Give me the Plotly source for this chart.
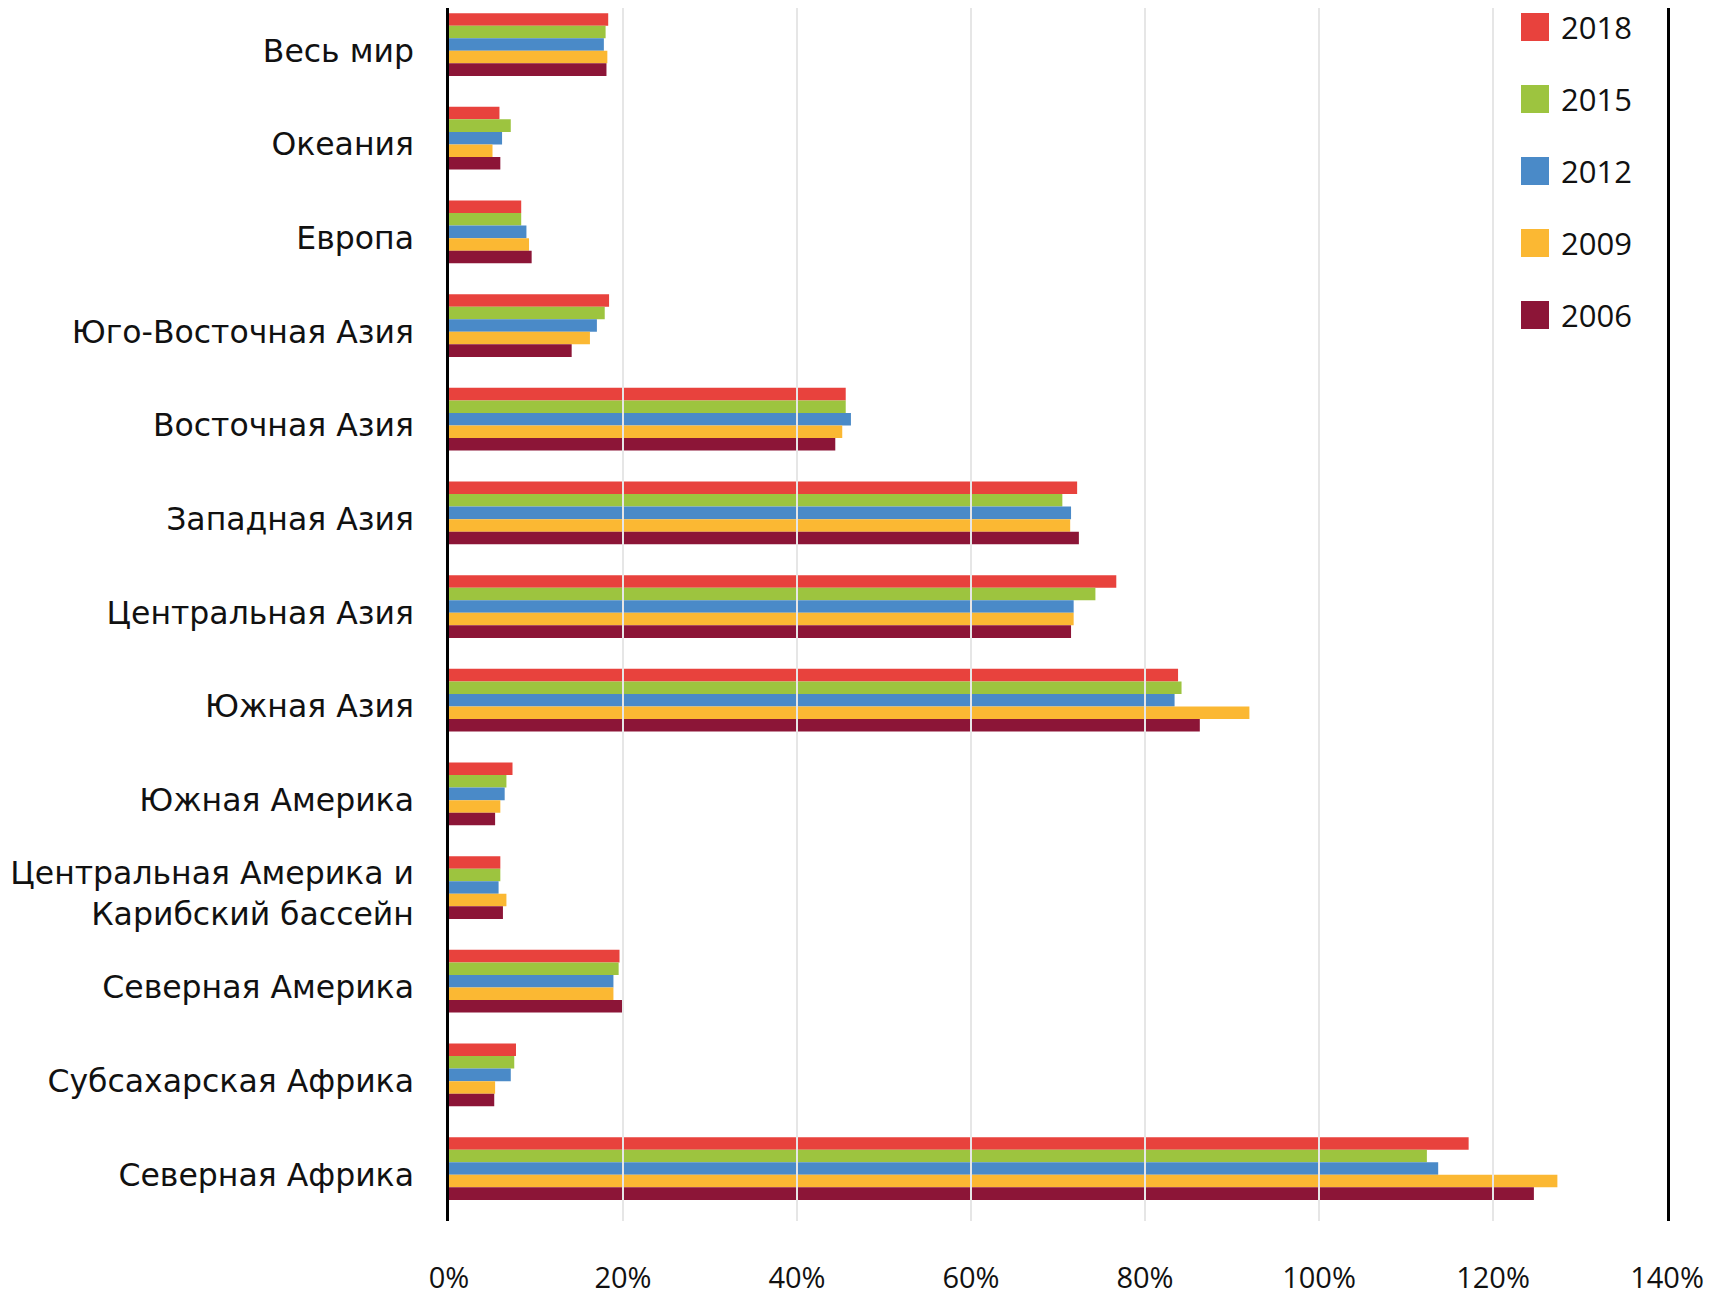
import plotly.graph_objects as go

categories = [
    "Весь мир", "Океания", "Европа", "Юго-Восточная Азия", "Восточная Азия",
    "Западная Азия", "Центральная Азия", "Южная Азия", "Южная Америка",
    "Центральная Америка и<br>Карибский бассейн", "Северная Америка",
    "Субсахарская Африка", "Северная Африка",
]
years = ["2018", "2015", "2012", "2009", "2006"]
v2018 = [18.3, 5.8, 8.3, 18.4, 45.6, 72.2, 76.7, 83.8, 7.3, 5.9, 19.6, 7.7, 117.2]
v2015 = [18.0, 7.1, 8.3, 17.9, 45.6, 70.5, 74.3, 84.2, 6.6, 5.9, 19.5, 7.5, 112.4]
v2012 = [17.8, 6.1, 8.9, 17.0, 46.2, 71.5, 71.8, 83.4, 6.4, 5.7, 18.9, 7.1, 113.7]
v2009 = [18.2, 5.0, 9.2, 16.2, 45.2, 71.4, 71.8, 92.0, 5.9, 6.6, 18.9, 5.3, 127.4]
v2006 = [18.1, 5.9, 9.5, 14.1, 44.4, 72.4, 71.5, 86.3, 5.3, 6.2, 19.9, 5.2, 124.7]
series = [v2018, v2015, v2012, v2009, v2006]
colors = ["#E8423D", "#9DC43F", "#4A8AC8", "#FBB833", "#8C1537"]
xticks = [0, 20, 40, 60, 80, 100, 120, 140]
xticklabels = ["0%", "20%", "40%", "60%", "80%", "100%", "120%", "140%"]

W, H = 1714, 1302
L, R, T, B = 449, 1667, 8, 1221
FONT = "Open Sans"
CAT_FONT = "DejaVu Sans"

fig = go.Figure()
for yr, vals, col in zip(years, series, colors):
    fig.add_trace(go.Bar(
        y=categories, x=vals, name=yr, orientation="h",
        marker=dict(color=col, line=dict(width=0)),
        showlegend=False,
    ))

# gridlines drawn above bars
shapes = []
for t in xticks[1:-1]:
    shapes.append(dict(type="line", xref="x", yref="paper", x0=t, x1=t, y0=0, y1=1,
                       line=dict(color="#E6E6E6", width=2), layer="above"))

# manual legend
annotations = []
leg_y = [27, 99, 171, 243, 315]
for yr, col, py in zip(years, colors, leg_y):
    x0 = (1521 - L) / (R - L)
    x1 = (1549 - L) / (R - L)
    y0 = 1 - (py - 14 - T) / (B - T)
    y1 = 1 - (py + 14 - T) / (B - T)
    shapes.append(dict(type="rect", xref="paper", yref="paper", x0=x0, x1=x1, y0=y1, y1=y0,
                       fillcolor=col, line=dict(width=0), layer="above"))
    annotations.append(dict(xref="paper", yref="paper", x=(1559 - L) / (R - L),
                            y=1 - (py - T) / (B - T), text=yr, showarrow=False,
                            xanchor="left", yanchor="middle",
                            font=dict(family=FONT, size=31, color="#111111")))

fig.update_layout(
    width=W, height=H,
    margin=dict(l=L, r=W - R, t=T, b=H - B, pad=0, autoexpand=False),
    paper_bgcolor="white", plot_bgcolor="white",
    barmode="group", bargap=0.33, bargroupgap=0,
    font=dict(family=FONT, size=30, color="#111111"),
    shapes=shapes, annotations=annotations,
    xaxis=dict(range=[0, 140], tickvals=xticks, ticktext=xticklabels,
               showgrid=False, zeroline=False, showline=False, ticks="",
               automargin=False, ticklabelstandoff=37, tickfont=dict(size=29)),
    yaxis=dict(range=[12.56, -0.39], showgrid=False, zeroline=False,
               showline=True, mirror=True, linecolor="black", linewidth=2.5,
               ticks="", automargin=False, ticklabelstandoff=26, ticklabelshift=-6,
               tickfont=dict(family=CAT_FONT, size=31.5)),
)

fig.write_html("out.html", config={"displayModeBar": False},
               post_script="document.body.style.margin='0';")
